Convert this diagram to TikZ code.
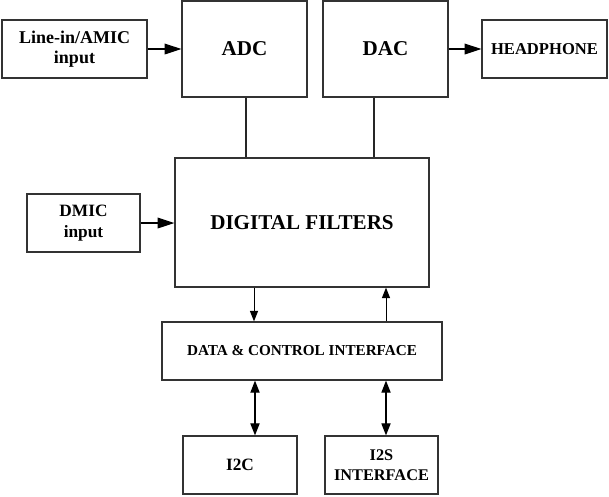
\documentclass[tikz,border=0pt]{standalone}
\usepackage{fontspec}
\setmainfont{Liberation Serif}
\usepackage{tikz}
\usetikzlibrary{arrows.meta, positioning}
\tikzset{
    blockbox/.style={draw=black!80, line width=0.9pt, fill=white, align=center,
        font=\bfseries, inner sep=0pt},
    sigline/.style={line width=0.8pt, -{Triangle[length=0.42cm, width=0.27cm]}},
    dataline/.style={line width=0.7pt, -{Triangle[length=0.26cm, width=0.2cm]}},
    busline/.style={line width=0.8pt, {Triangle[length=0.3cm, width=0.23cm]}-{Triangle[length=0.3cm, width=0.23cm]}},
    plainline/.style={line width=0.9pt, black!85}
}

\begin{document}
\begin{tikzpicture}[x=0.025cm, y=-0.025cm]
    \useasboundingbox (0,0) rectangle (609,496);
    % === TOP ROW ===
    \node[blockbox, minimum width=3.625cm, minimum height=1.45cm, font=\fontsize{12.8}{14.5}\selectfont\bfseries] (linein) at (74.5,49) {Line-in/AMIC\\input};
    \node[blockbox, minimum width=3.125cm, minimum height=2.4cm, font=\fontsize{15}{17}\selectfont\bfseries] (adc) at (244.5,49) {ADC};
    \node[blockbox, minimum width=3.125cm, minimum height=2.4cm, font=\fontsize{15}{17}\selectfont\bfseries] (dac) at (385.5,49) {DAC};
    \node[blockbox, minimum width=3.125cm, minimum height=1.45cm, font=\fontsize{11.8}{14}\selectfont\bfseries] (phone) at (544.5,49) {HEADPHONE};
    % === FILTERS ===
    \node[blockbox, minimum width=6.35cm, minimum height=3.225cm, font=\fontsize{15}{17}\selectfont\bfseries] (filters) at (302,222.5) {DIGITAL FILTERS};
    \node[blockbox, minimum width=2.825cm, minimum height=1.45cm, font=\fontsize{12.3}{14.5}\selectfont\bfseries] (dmic) at (83.5,223) {DMIC\\input};
    % === INTERFACE ===
    \node[blockbox, minimum width=7cm, minimum height=1.45cm, font=\fontsize{10.8}{13}\selectfont\bfseries] (dci) at (302,351) {DATA \& CONTROL INTERFACE};
    \node[blockbox, minimum width=2.85cm, minimum height=1.45cm, font=\fontsize{12.3}{14}\selectfont\bfseries] (itwoc) at (240,465) {I2C};
    \node[blockbox, minimum width=2.825cm, minimum height=1.45cm, font=\fontsize{11.6}{14}\selectfont\bfseries] (itwos) at (381.5,465) {I2S\\INTERFACE};
    % Signal arrows
    \draw[sigline] (linein.east) -- (adc.west |- linein.east);
    \draw[sigline] (dac.east |- phone.west) -- (phone.west);
    \draw[sigline] (dmic.east) -- (filters.west |- dmic.east);
    % Converters to filters
    \draw[plainline] (adc.south -| 246,0) -- (filters.north -| 246,0);
    \draw[plainline] (dac.south -| 374,0) -- (filters.north -| 374,0);
    % Filters and interface
    \draw[dataline] (filters.south -| 254,0) -- (dci.north -| 254,0);
    \draw[dataline] (dci.north -| 386,0) -- (filters.south -| 386,0);
    \draw[busline] (dci.south -| 255,0) -- (itwoc.north -| 255,0);
    \draw[busline] (dci.south -| 386,0) -- (itwos.north -| 386,0);
\end{tikzpicture}
\end{document}
